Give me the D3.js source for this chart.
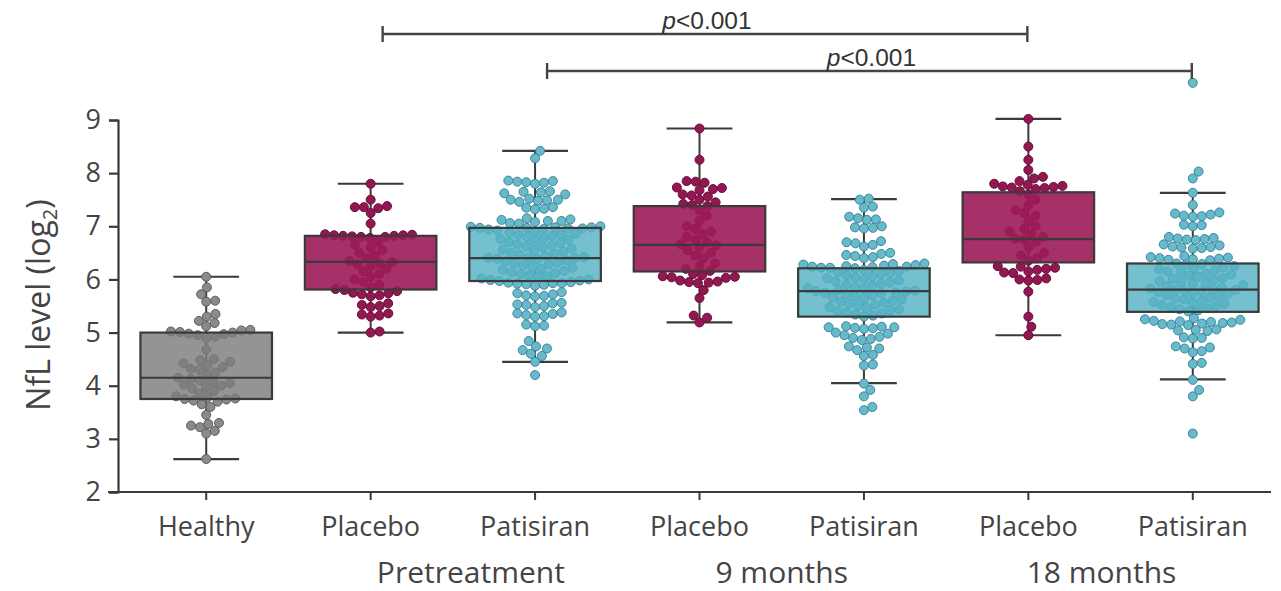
<!DOCTYPE html>
<html>
<head>
<meta charset="utf-8">
<script src="https://cdn.jsdelivr.net/npm/d3@7"></script>
<style>
  body { margin: 0; background: #fff; }
  svg { display: block; }
</style>
</head>
<body>
<script>
// categories along the x axis
var categories = ["Healthy", "Placebo", "Patisiran", "Placebo", "Patisiran", "Placebo", "Patisiran"];
var kinds = ["healthy", "placebo", "patisiran", "placebo", "patisiran", "placebo", "patisiran"];

// time point groups under the categories
var groupLabels = ["Pretreatment", "9 months", "18 months"];
var groupSpans = [[1, 2], [3, 4], [5, 6]];

// box stats (log2 NfL)
var whiskLo = [2.62, 5.0, 4.45, 5.19, 4.05, 4.95, 4.12];
var q1 = [3.75, 5.81, 5.97, 6.15, 5.3, 6.32, 5.39];
var median = [4.15, 6.33, 6.4, 6.65, 5.78, 6.76, 5.81];
var q3 = [5.0, 6.82, 6.97, 7.38, 6.21, 7.64, 6.3];
var whiskHi = [6.05, 7.8, 8.42, 8.84, 7.51, 9.02, 7.63];

// individual patients
var healthyPts = [6.05, 5.85, 5.72, 5.6, 5.58, 5.35, 5.3, 5.22, 5.18, 5.12, 5.05, 5.04, 5.02, 5.01, 5.0,
  4.98, 4.97, 4.95, 4.92, 4.9, 4.68, 4.5, 4.48, 4.45, 4.42, 4.38, 4.35, 4.32, 4.3, 4.25, 4.2, 4.15,
  4.13, 4.1, 4.08, 4.05, 4.02, 4.0, 3.98, 3.95, 3.9, 3.85, 3.8, 3.78, 3.76, 3.75, 3.74, 3.72, 3.7,
  3.65, 3.6, 3.45, 3.3, 3.28, 3.25, 3.22, 3.15, 3.1, 2.62];

var prePlacebo = [7.8, 7.5, 7.38, 7.36, 7.36, 7.34, 7.25, 7.05, 6.85, 6.84, 6.83, 6.83, 6.82, 6.82, 6.81,
  6.8, 6.8, 6.78, 6.7, 6.65, 6.6, 6.55, 6.5, 6.45, 6.4, 6.35, 6.33, 6.3, 6.28, 6.25, 6.2, 6.15, 6.1,
  6.05, 6.0, 5.95, 5.9, 5.85, 5.82, 5.8, 5.78, 5.75, 5.74, 5.72, 5.7, 5.68, 5.55, 5.52, 5.5, 5.48,
  5.36, 5.34, 5.32, 5.3, 5.02, 5.0];

var prePatisiran = [8.42, 8.28, 7.86, 7.85, 7.84, 7.83, 7.82, 7.8, 7.66, 7.65, 7.64, 7.62, 7.6, 7.52,
  7.5, 7.5, 7.49, 7.48, 7.46, 7.36, 7.35, 7.33, 7.32, 7.15, 7.13, 7.12, 7.1, 7.1, 7.08, 7.06, 7.05,
  7.0, 6.99, 6.98, 6.98, 6.97, 6.97, 6.96, 6.96, 6.95, 6.94, 6.92, 6.9, 6.88, 6.86, 6.85, 6.84, 6.82,
  6.8, 6.78, 6.76, 6.75, 6.72, 6.7, 6.68, 6.66, 6.64, 6.62, 6.6, 6.58, 6.56, 6.54, 6.52, 6.5, 6.48,
  6.46, 6.44, 6.42, 6.41, 6.4, 6.4, 6.39, 6.38, 6.36, 6.34, 6.32, 6.3, 6.28, 6.26, 6.24, 6.22, 6.2,
  6.18, 6.16, 6.14, 6.12, 6.1, 6.08, 6.06, 6.04, 6.02, 6.0, 5.99, 5.98, 5.97, 5.95, 5.94, 5.93, 5.93,
  5.92, 5.91, 5.9, 5.88, 5.76, 5.74, 5.72, 5.7, 5.69, 5.68, 5.56, 5.55, 5.53, 5.52, 5.5, 5.48, 5.38,
  5.36, 5.35, 5.33, 5.31, 5.3, 5.15, 5.13, 5.12, 4.84, 4.74, 4.7, 4.67, 4.6, 4.56, 4.45, 4.2];

var m9Placebo = [8.84, 8.25, 7.85, 7.84, 7.82, 7.73, 7.72, 7.7, 7.68, 7.6, 7.58, 7.56, 7.5, 7.45, 7.42,
  7.4, 7.38, 7.3, 7.2, 7.1, 7.0, 6.95, 6.9, 6.85, 6.8, 6.75, 6.7, 6.66, 6.64, 6.6, 6.55, 6.5, 6.45,
  6.4, 6.3, 6.25, 6.2, 6.16, 6.1, 6.08, 6.06, 6.05, 6.04, 6.03, 5.98, 5.96, 5.95, 5.94, 5.93, 5.8,
  5.65, 5.32, 5.28, 5.19];

var m9Patisiran = [7.52, 7.5, 7.37, 7.35, 7.18, 7.15, 7.13, 7.12, 7.0, 6.98, 6.97, 6.96, 6.72, 6.7,
  6.68, 6.65, 6.62, 6.5, 6.48, 6.46, 6.44, 6.42, 6.4, 6.3, 6.29, 6.28, 6.27, 6.26, 6.25, 6.24, 6.24,
  6.23, 6.22, 6.22, 6.21, 6.18, 6.16, 6.14, 6.12, 6.1, 6.08, 6.06, 6.04, 6.02, 6.0, 5.98, 5.96, 5.94,
  5.92, 5.9, 5.88, 5.86, 5.84, 5.82, 5.8, 5.79, 5.78, 5.77, 5.76, 5.75, 5.74, 5.72, 5.7, 5.68, 5.66,
  5.64, 5.62, 5.6, 5.58, 5.56, 5.54, 5.52, 5.5, 5.48, 5.46, 5.44, 5.42, 5.4, 5.38, 5.36, 5.34, 5.32,
  5.3, 5.12, 5.11, 5.1, 5.1, 5.09, 5.08, 5.07, 5.0, 4.98, 4.95, 4.92, 4.9, 4.88, 4.86, 4.74, 4.72,
  4.7, 4.67, 4.58, 4.56, 4.4, 4.38, 4.04, 3.92, 3.8, 3.6, 3.54];

var m18Placebo = [9.02, 8.5, 8.25, 8.06, 7.93, 7.9, 7.85, 7.8, 7.78, 7.76, 7.75, 7.74, 7.73, 7.72, 7.7,
  7.66, 7.6, 7.5, 7.4, 7.3, 7.25, 7.2, 7.1, 7.0, 6.95, 6.9, 6.85, 6.8, 6.77, 6.75, 6.7, 6.6, 6.5,
  6.45, 6.4, 6.35, 6.25, 6.24, 6.22, 6.2, 6.18, 6.15, 6.13, 6.12, 6.02, 6.0, 5.99, 5.98, 5.77, 5.3,
  5.11, 4.95];

var m18Patisiran = [9.7, 8.03, 7.9, 7.63, 7.4, 7.26, 7.24, 7.22, 7.2, 7.19, 7.18, 7.03, 7.02, 7.0, 6.8,
  6.78, 6.77, 6.76, 6.75, 6.74, 6.66, 6.64, 6.62, 6.61, 6.6, 6.59, 6.58, 6.44, 6.42, 6.41, 6.4, 6.39,
  6.38, 6.37, 6.36, 6.3, 6.29, 6.27, 6.25, 6.23, 6.21, 6.19, 6.17, 6.15, 6.13, 6.11, 6.09, 6.07, 6.05,
  6.03, 6.01, 5.99, 5.97, 5.95, 5.93, 5.91, 5.89, 5.87, 5.85, 5.83, 5.82, 5.81, 5.8, 5.79, 5.78, 5.76,
  5.74, 5.72, 5.7, 5.68, 5.66, 5.64, 5.62, 5.6, 5.58, 5.56, 5.54, 5.52, 5.5, 5.48, 5.46, 5.44, 5.42,
  5.4, 5.27, 5.25, 5.24, 5.22, 5.21, 5.2, 5.19, 5.18, 5.17, 5.16, 5.15, 5.14, 5.06, 5.05, 5.04, 5.03,
  4.91, 4.9, 4.89, 4.74, 4.72, 4.7, 4.65, 4.63, 4.43, 4.41, 4.11, 3.92, 3.8, 3.1];

var points = [healthyPts, prePlacebo, prePatisiran, m9Placebo, m9Patisiran, m18Placebo, m18Patisiran];

// significance brackets: from category, to category, label
var bracketFrom = [1, 2];
var bracketTo = [5, 6];
var bracketText = ["<0.001", "<0.001"];

var yTicks = [2, 3, 4, 5, 6, 7, 8, 9];

var colors = {
  healthy:   { box: "#7c7c7c", dot: "#8a8a8a", edge: "#5e5e5e" },
  placebo:   { box: "#9c1b59", dot: "#931851", edge: "#690e3a" },
  patisiran: { box: "#57b2c5", dot: "#66bacb", edge: "#3d8797" }
};

var W = 1281, H = 591;
var svg = d3.select("body").append("svg").attr("width", W).attr("height", H);

var x = d3.scaleBand().domain(d3.range(categories.length))
  .range([124, 1275]).paddingInner(0.2).paddingOuter(0.1);
var y = d3.scaleLinear().domain([2, 9]).range([492, 120]);
var bw = x.bandwidth();
var cx = function(i){ return x(i) + bw / 2; };
var R = 4.5;

// simple beeswarm, seaborn style with gutter at the box edges
function swarm(vals, gutter){
  var d = 2 * R, placed = [];
  vals.slice().sort(function(a, b){ return a - b; }).forEach(function(v){
    var py = y(v);
    var nb = placed.filter(function(p){ return Math.abs(p.y - py) < d; });
    var cands = [0];
    nb.forEach(function(p){
      var dx = Math.sqrt(d * d - (p.y - py) * (p.y - py));
      cands.push(p.x + dx, p.x - dx);
    });
    cands.sort(function(a, b){ return Math.abs(a) - Math.abs(b); });
    var best = cands[0];
    for (var k = 0; k < cands.length; k++){
      var c = cands[k], ok = true;
      for (var j = 0; j < nb.length; j++){
        var ddx = nb[j].x - c, ddy = nb[j].y - py;
        if (ddx * ddx + ddy * ddy < d * d - 0.01){ ok = false; break; }
      }
      if (ok){ best = c; break; }
    }
    placed.push({ x: best, y: py, v: v });
  });
  placed.forEach(function(p){ p.x = Math.max(-gutter, Math.min(gutter, p.x)); });
  return placed;
}

var ink = "#3a3a3a";

// axes
var yAxis = svg.append("g").attr("transform", "translate(118,0)")
  .call(d3.axisLeft(y).tickValues(yTicks).tickFormat(d3.format("d")).tickSize(9).tickPadding(8));
yAxis.select(".domain").attr("stroke", ink).attr("stroke-width", 2.2);
yAxis.selectAll(".tick line").attr("stroke", ink).attr("stroke-width", 2.2);
yAxis.selectAll(".tick text").attr("fill", "#444").style("font-family", "'Open Sans'").style("font-size", "27px");

var xAxis = svg.append("g").attr("transform", "translate(0,492)")
  .call(d3.axisBottom(x).tickSize(8).tickPadding(17).tickSizeOuter(0).tickFormat(function(i){ return categories[i]; }));
xAxis.select(".domain").attr("d", "M108,0H1271").attr("stroke", ink).attr("stroke-width", 2.2);
xAxis.selectAll(".tick line").attr("stroke", ink).attr("stroke-width", 2);
xAxis.selectAll(".tick text").attr("fill", "#444").style("font-family", "'Open Sans'").style("font-size", "27px");

// group labels, nudged a little like in the print
var grpNudge = [18, 0, -9];
svg.selectAll("text.grp").data(groupLabels).enter().append("text")
  .attr("class", "grp")
  .attr("x", function(d, i){ return (cx(groupSpans[i][0]) + cx(groupSpans[i][1])) / 2 + grpNudge[i]; })
  .attr("y", 583)
  .attr("text-anchor", "middle")
  .attr("fill", "#444")
  .style("font-family", "'Open Sans'").style("font-size", "30px")
  .text(function(d){ return d; });

// y axis title
var yt = svg.append("text")
  .attr("transform", "translate(50,305) rotate(-90)")
  .attr("text-anchor", "middle")
  .attr("fill", "#444")
  .style("font-family", "'Open Sans'").style("font-size", "32px");
yt.append("tspan").text("NfL level (log");
yt.append("tspan").attr("dy", 7).style("font-size", "20px").text("2");
yt.append("tspan").attr("dy", -7).text(")");

// boxes, dots
var plot = svg.append("g");
categories.forEach(function(c, i){
  var col = colors[kinds[i]], mx = cx(i);
  var g = plot.append("g");

  // whisker line and caps
  g.append("line").attr("x1", mx).attr("x2", mx).attr("y1", y(whiskLo[i])).attr("y2", y(whiskHi[i]))
    .attr("stroke", ink).attr("stroke-width", 2);
  [whiskLo[i], whiskHi[i]].forEach(function(v){
    g.append("line").attr("x1", mx - bw / 4).attr("x2", mx + bw / 4).attr("y1", y(v)).attr("y2", y(v))
      .attr("stroke", ink).attr("stroke-width", 2.2);
  });

  // dots
  var sw = swarm(points[i], bw / 2);
  g.selectAll("circle").data(sw).enter().append("circle")
    .attr("cx", function(p){ return mx + p.x; })
    .attr("cy", function(p){ return p.y; })
    .attr("r", R)
    .attr("fill", col.dot)
    .attr("stroke", col.edge)
    .attr("stroke-width", 1);

  // box over the dots, partly see-through
  g.append("rect")
    .attr("x", x(i)).attr("width", bw)
    .attr("y", y(q3[i])).attr("height", y(q1[i]) - y(q3[i]))
    .attr("fill", col.box).attr("fill-opacity", kinds[i] == "placebo" ? 0.9 : 0.82)
    .attr("stroke", ink).attr("stroke-width", 2.2);
  g.append("line").attr("x1", x(i)).attr("x2", x(i) + bw).attr("y1", y(median[i])).attr("y2", y(median[i]))
    .attr("stroke", ink).attr("stroke-width", 2.2);
});

// significance brackets
var brY = [34, 71];
bracketFrom.forEach(function(f, k){
  var x1 = cx(f) + 12, x2 = cx(bracketTo[k]) - 1, by = brY[k];
  var b = svg.append("g").attr("stroke", "#444").attr("stroke-width", 2.4);
  b.append("line").attr("x1", x1).attr("x2", x2).attr("y1", by).attr("y2", by);
  b.append("line").attr("x1", x1).attr("x2", x1).attr("y1", by - 8).attr("y2", by + 8);
  b.append("line").attr("x1", x2).attr("x2", x2).attr("y1", by - 8).attr("y2", by + 8);
  var t = svg.append("text").attr("x", (x1 + x2) / 2 + 2).attr("y", by - 5)
    .attr("text-anchor", "middle").attr("fill", "#333")
    .style("font-family", "'Liberation Sans', Arial, sans-serif").style("font-size", "24.5px");
  t.append("tspan").style("font-style", "italic").text("p");
  t.append("tspan").text(bracketText[k]);
});
</script>
</body>
</html>
